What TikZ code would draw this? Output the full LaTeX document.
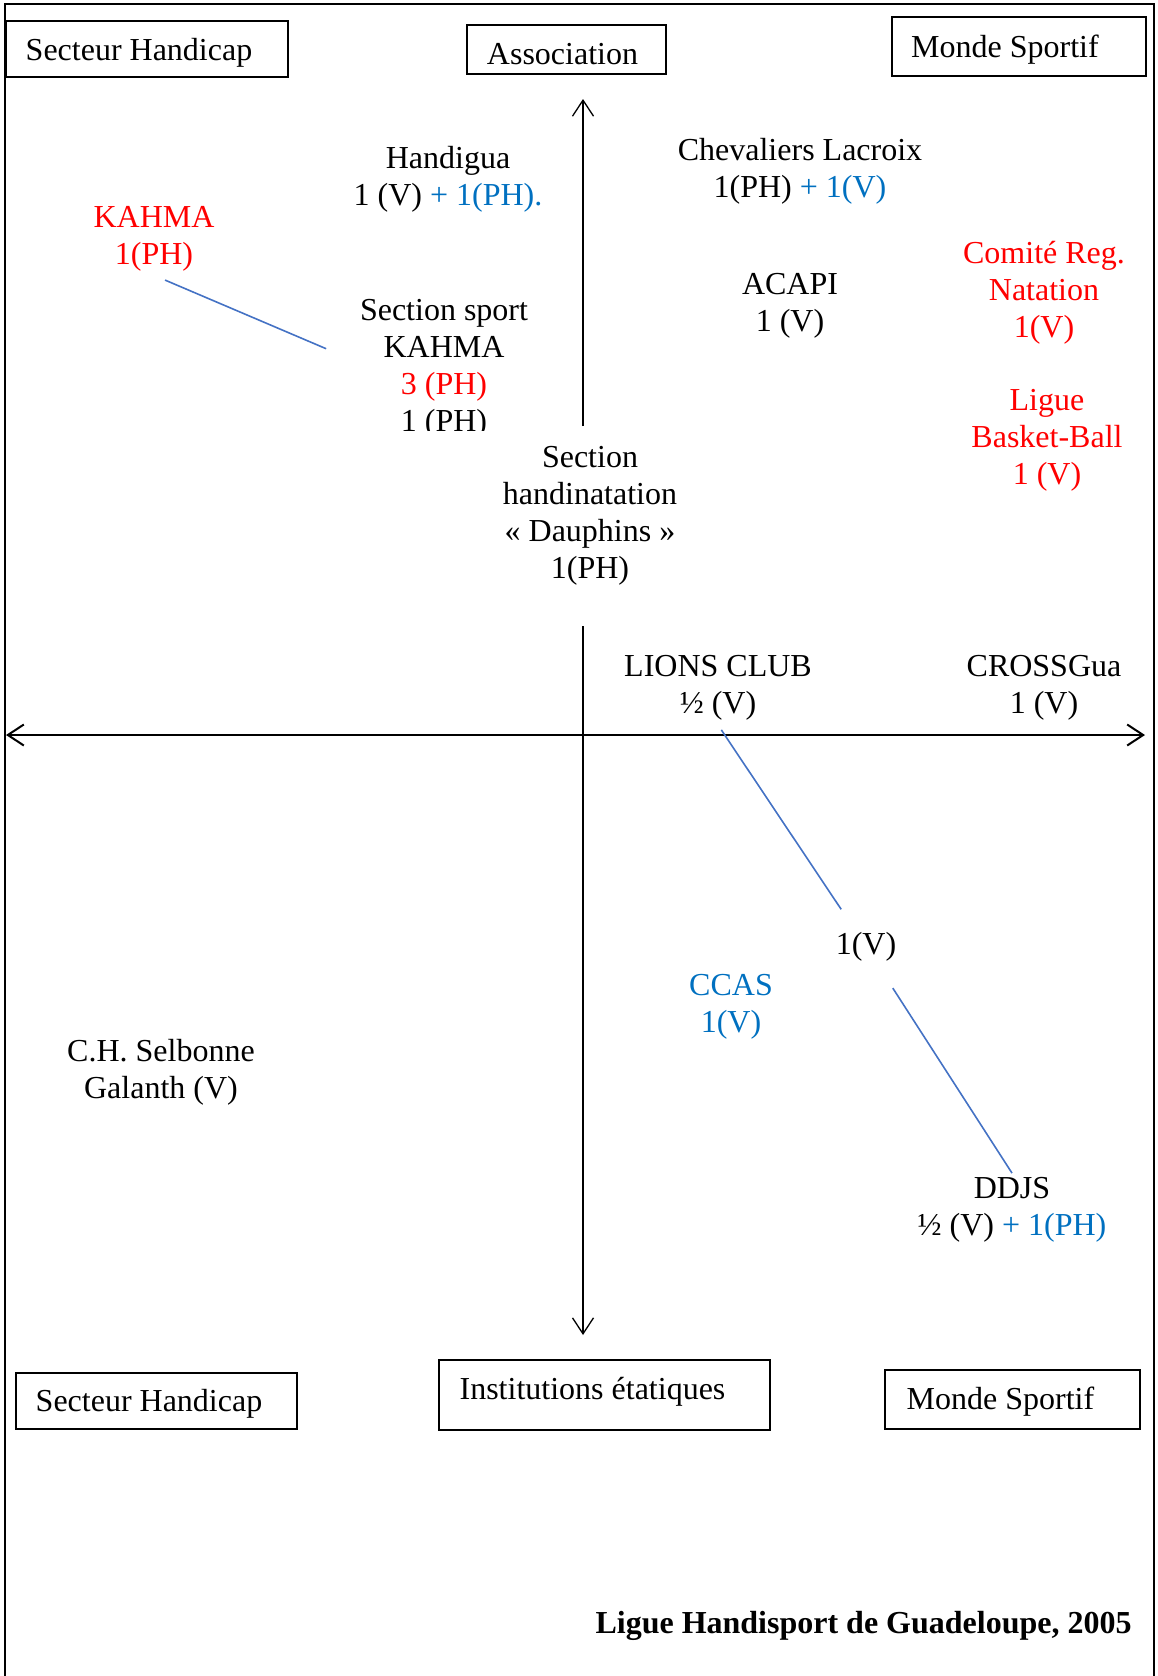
\documentclass[tikz,border=0pt]{standalone}
\usepackage{fontspec}
\setmainfont{Liberation Serif}
\usetikzlibrary{arrows.meta}
\definecolor{txtred}{RGB}{255,0,0}
\definecolor{txtblue}{RGB}{0,112,192}
\definecolor{lineblue}{RGB}{68,114,196}
\tikzset{>={Straight Barb[length=8pt,width=10.5pt]}}
\tikzset{
  box/.style={rectangle, draw=black, line width=0.6pt, inner sep=0pt},
  boxtext/.style={font=\fontsize{16}{18.5}\selectfont, inner sep=0pt},
  lbl/.style={align=center, inner sep=2pt, yshift=-1.75pt, font=\fontsize{16}{18.5}\selectfont},
  link/.style={draw=lineblue, line width=0.8pt},
  axis/.style={line width=0.65pt}
}

\begin{document}
\begin{tikzpicture}[x=0.5pt, y=-0.5pt]
\useasboundingbox (0,0) rectangle (1157,1676);

% Frame
\draw[line width=1pt] (5,1676) -- (5,4) -- (1154,4) -- (1154,1676);

% Top boxes
\node[box, minimum width=141pt, minimum height=28pt,
  label={[boxtext, xshift=-4pt, yshift=-1.9pt]center:Secteur Handicap}] (secteurtop) at (147,49) {};
\node[box, minimum width=99.5pt, minimum height=24.5pt,
  label={[boxtext, xshift=-2pt, yshift=-2.2pt]center:Association}] (assoc) at (566.5,49.5) {};
\node[box, minimum width=127pt, minimum height=29.5pt,
  label={[boxtext, xshift=-7pt, yshift=-1.6pt]center:Monde Sportif}] (mondetop) at (1019,46.5) {};

% Bottom boxes
\node[box, minimum width=140.5pt, minimum height=28pt,
  label={[boxtext, xshift=-3.75pt, yshift=-1.6pt]center:Secteur Handicap}] (secteurbot) at (156.5,1401) {};
\node[box, minimum width=165.5pt, minimum height=35pt,
  label={[boxtext, xshift=-6pt, yshift=1.6pt]center:Institutions étatiques}] (institutions) at (604.5,1395) {};
\node[box, minimum width=127.5pt, minimum height=29.5pt,
  label={[boxtext, xshift=-6pt, yshift=-1pt]center:Monde Sportif}] (mondebot) at (1012.5,1399.5) {};

% Axes
\coordinate (ytop) at (583,99);
\coordinate (yup) at (583,426);
\coordinate (ydown) at (583,626);
\coordinate (ybot) at (583,1335);
\coordinate (xleft) at (6,735);
\coordinate (xright) at (1145,735);
\draw[axis, ->] (yup) -- (ytop);
\draw[axis, ->] (ydown) -- (ybot);
\draw[axis, <->, line width=1pt] (xleft) -- (xright);

% Upper half
\node[lbl] (handigua) at (448,176) {Handigua\\1 (V) \textcolor{txtblue}{+ 1(PH).}};
\node[lbl] (chevaliers) at (800,167.5) {Chevaliers Lacroix\\1(PH) \textcolor{txtblue}{+ 1(V)}};
\node[lbl, text=txtred] (kahma) at (154,235) {KAHMA\\1(PH)};
\begin{scope}
  \clip (300,270) rectangle (600,430);
  \node[lbl] (secsport) at (444,365.5) {Section sport\\KAHMA\\\textcolor{txtred}{3 (PH)}\\1 (PH)};
\end{scope}
\node[lbl] (acapi) at (790,302) {ACAPI\\1 (V)};
\node[lbl, text=txtred] (comite) at (1044,289) {Comité Reg.\\Natation\\1(V)};
\node[lbl, text=txtred] (ligue) at (1047,436.5) {Ligue\\Basket-Ball\\1 (V)};
\node[lbl] (dauphins) at (590,512.5) {Section\\handinatation\\« Dauphins »\\1(PH)};
\node[lbl] (lions) at (718,684.5) {LIONS CLUB\\½ (V)};
\node[lbl] (crossgua) at (1044,684.5) {CROSSGua\\1 (V)};

% Lower half
\node[lbl] (midv) at (866,943) {1(V)};
\node[lbl, text=txtblue] (ccas) at (731,1003) {CCAS\\1(V)};
\node[lbl] (selbonne) at (161,1068.5) {C.H. Selbonne\\Galanth (V)};
\node[lbl] (ddjs) at (1012,1206.5) {DDJS\\½ (V) \textcolor{txtblue}{+ 1(PH)}};

% Links
\draw[link, shorten <=6pt, shorten >=16pt] (kahma.south) -- (secsport.175);
\draw[link, shorten <=3pt, shorten >=11pt] (lions.south) -- (midv);
\draw[link, shorten <=13.5pt] (midv) -- (ddjs.north);

% Source
\node[lbl, anchor=east, font=\fontsize{16}{18.5}\selectfont\bfseries] (source) at (1136,1622) {Ligue Handisport de Guadeloupe, 2005};

\end{tikzpicture}
\end{document}
